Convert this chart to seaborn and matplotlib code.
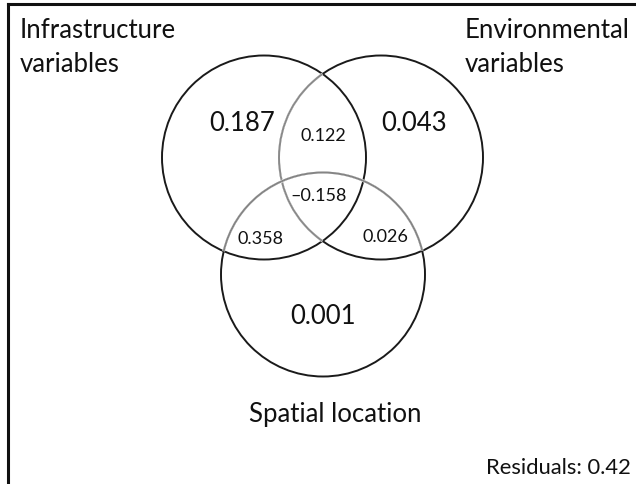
import numpy as np
import matplotlib
matplotlib.use("Agg")
import matplotlib.pyplot as plt
from matplotlib.patches import Circle, Arc
import seaborn as sns

# ---- data ----
set_names = ["Infrastructure\nvariables", "Environmental\nvariables", "Spatial location"]
region_keys = ["100", "010", "001", "110", "101", "011", "111"]
region_values = [0.187, 0.043, 0.001, 0.122, 0.358, 0.026, -0.158]
residuals = 0.42

sns.set_theme(style="white")
plt.rcParams["font.family"] = ["Lato", "DejaVu Sans"]

W, H = 636, 485
fig = plt.figure(figsize=(W / 100, H / 100), dpi=100)
fx0, fy0 = 7.5, 5.0
ax = fig.add_axes([fx0 / W, 0, 1 - fx0 / W, (H - fy0) / H])
ax.set_xlim(fx0, W)
ax.set_ylim(H, fy0)
ax.set_xticks([])
ax.set_yticks([])
sns.despine(ax=ax, top=False, right=True, left=False, bottom=True)
for s in ("left", "top"):
    ax.spines[s].set_linewidth(2.2)
    ax.spines[s].set_color("#111111")

# layout (pixel-like coordinates)
R = 102
centers = [(264, 158.5), (381, 158.5), (323, 275.5)]
lw = 1.4
dark = "#1a1a1a"

def intersections(c1, c2, r):
    (x1, y1), (x2, y2) = c1, c2
    d = np.hypot(x2 - x1, y2 - y1)
    a = d / 2
    h = np.sqrt(r * r - a * a)
    mx, my = x1 + (x2 - x1) / 2, y1 + (y2 - y1) / 2
    ux, uy = (x2 - x1) / d, (y2 - y1) / d
    return [(mx - h * uy, my + h * ux), (mx + h * uy, my - h * ux)]

def ang(c, p):
    return np.degrees(np.arctan2(p[1] - c[1], p[0] - c[0])) % 360

for c in centers:
    ax.add_patch(Circle(c, R, fill=False, ec=dark, lw=lw))

# grey inner arc of circle 2 (inside circle 1)
pts = intersections(centers[1], centers[0], R)
a = sorted(ang(centers[1], p) for p in pts)
ax.add_patch(Arc(centers[1], 2 * R, 2 * R, theta1=a[0], theta2=a[1], ec="white", lw=lw + 0.6))
ax.add_patch(Arc(centers[1], 2 * R, 2 * R, theta1=a[0], theta2=a[1], ec="#8a8a8a", lw=lw))

# grey upper arc of circle 3 (inside circles 1 and 2)
p31 = intersections(centers[2], centers[0], R)
p32 = intersections(centers[2], centers[1], R)
left = min(p31, key=lambda p: p[0])
right = max(p32, key=lambda p: p[0])
t1, t2 = ang(centers[2], right), ang(centers[2], left)
ax.add_patch(Arc(centers[2], 2 * R, 2 * R, theta1=t2, theta2=t1, ec="white", lw=lw + 0.6))
ax.add_patch(Arc(centers[2], 2 * R, 2 * R, theta1=t2, theta2=t1, ec="#858585", lw=lw))

# region labels
label_pos = {
    "100": (242, 124), "010": (414, 124), "001": (323, 317),
    "110": (323, 136), "101": (261, 239), "011": (385, 237), "111": (319, 196),
}
big = {"100", "010", "001"}
for k, v in zip(region_keys, region_values):
    x, y = label_pos[k]
    txt = f"{v:.3f}".replace("-", "\u2013")
    ax.text(x, y, txt, ha="center", va="center",
            fontsize=18.5 if k in big else 13, color="#111111")

# set names (multi-line names drawn line by line)
name_pos = [(20, "left"), (465, "left")]
for name, (x, ha) in zip(set_names[:2], name_pos):
    for i, line in enumerate(name.split("\n")):
        ax.text(x, 38 + 34 * i, line, ha=ha, va="baseline", fontsize=18.5,
                color="#111111")
ax.text(335, 422, set_names[2], ha="center", va="baseline", fontsize=18.5,
        color="#111111")
ax.text(631, 474, f"Residuals: {residuals:.2f}", ha="right", va="baseline",
        fontsize=15.8, color="#111111")

fig.savefig("out.png", dpi=100, facecolor="white")
